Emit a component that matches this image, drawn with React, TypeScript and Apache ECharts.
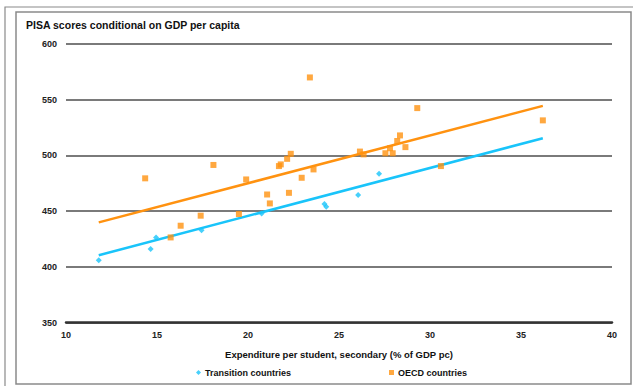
import React, { useEffect, useRef } from "react";
import * as echarts from "echarts";

// Expenditure per student (% of GDP pc) vs. PISA score conditional on GDP
const transitionPoints: [number, number][] = [
  [11.8, 406], [14.65, 416], [14.95, 426.5], [17.45, 433], [20.75, 448],
  [24.2, 456.5], [24.3, 454], [26.05, 464.5], [27.2, 483.5],
];
const oecdPoints: [number, number][] = [
  [14.35, 479.5], [15.75, 426.5], [16.3, 437], [17.4, 446], [18.1, 491.5],
  [19.5, 447.5], [19.9, 478.5], [21.05, 465], [21.2, 457], [21.7, 490.5],
  [21.8, 492], [22.15, 497], [22.35, 501.5], [22.25, 466.5], [22.95, 480],
  [23.4, 570], [23.6, 487.5], [26.15, 503.5], [26.35, 501], [27.55, 502],
  [27.8, 506.5], [27.95, 502], [28.2, 513], [28.35, 518], [28.65, 507.5],
  [29.3, 542.5], [30.6, 490.5], [36.2, 531.5],
];
// Fitted trend lines (end points)
const transitionTrend: [number, number][] = [[11.8, 410.5], [36.2, 515.5]];
const oecdTrend: [number, number][] = [[11.8, 440], [36.2, 544.5]];

const xTicks = { min: 10, max: 40, interval: 5 };
const yTicks = { min: 350, max: 600, interval: 50 };

const CYAN = "#19c4fa";
const ORANGE = "#ff9210";
const FONT = "'Liberation Sans', Arial, sans-serif";

export default function App() {
  const ref = useRef<HTMLDivElement>(null);
  useEffect(() => {
    if (!ref.current) return;
    const chart = echarts.init(ref.current, null, { renderer: "svg" });
    chart.setOption({
      animation: false,
      backgroundColor: "#ffffff",
      textStyle: { fontFamily: FONT },
      title: {
        text: "PISA scores conditional on GDP per capita",
        left: 21,
        top: 14,
        textStyle: { fontSize: 10.5, fontWeight: "bold", color: "#111", fontFamily: FONT },
      },
      graphic: [
        {
          type: "polyline",
          shape: { points: [[5, 386], [5, 7], [633, 7]] },
          style: { stroke: "#8a8a8a", lineWidth: 1.2, fill: "none" },
          silent: true,
        },
        {
          type: "rect",
          shape: { x: 16, y: 12, width: 615, height: 372 },
          style: { stroke: "#8a8a8a", lineWidth: 1.5, fill: "none" },
          silent: true,
        },
      ],
      grid: { left: 66, right: 21, top: 44, bottom: 63.3 },
      xAxis: {
        type: "value",
        min: xTicks.min,
        max: xTicks.max,
        interval: xTicks.interval,
        name: "Expenditure per student, secondary (% of GDP pc)",
        nameLocation: "middle",
        nameGap: 27,
        nameTextStyle: { fontSize: 9.5, fontWeight: "bold", color: "#111", fontFamily: FONT },
        axisLine: { show: true, lineStyle: { color: "#333", width: 2.5 } },
        axisTick: { show: false },
        splitLine: { show: false },
        axisLabel: { fontSize: 9, fontWeight: "bold", color: "#222", margin: 8, fontFamily: FONT },
      },
      yAxis: {
        type: "value",
        min: yTicks.min,
        max: yTicks.max,
        interval: yTicks.interval,
        axisLine: { show: false },
        axisTick: { show: false },
        axisLabel: { fontSize: 9, fontWeight: "bold", color: "#222", margin: 9, fontFamily: FONT },
        splitLine: { show: true, lineStyle: { color: "#7a7a7a", width: 2 } },
      },
      legend: {
        bottom: 4,
        left: 191,
        itemGap: 98,
        itemWidth: 5,
        itemHeight: 5,
        textStyle: { fontSize: 9, fontWeight: "bold", color: "#111", fontFamily: FONT, padding: [0, 0, 0, -1] },
        data: [
          { name: "Transition countries", icon: "diamond" },
          { name: "OECD countries", icon: "rect" },
        ],
      },
      series: [
        {
          name: "Transition trend",
          type: "line",
          data: transitionTrend,
          symbol: "none",
          lineStyle: { color: CYAN, width: 2.5 },
          z: 2,
        },
        {
          name: "OECD trend",
          type: "line",
          data: oecdTrend,
          symbol: "none",
          lineStyle: { color: ORANGE, width: 2.5 },
          z: 2,
        },
        {
          name: "Transition countries",
          type: "scatter",
          data: transitionPoints,
          symbol: "diamond",
          symbolSize: 6,
          itemStyle: { color: CYAN },
          z: 3,
        },
        {
          name: "OECD countries",
          type: "scatter",
          data: oecdPoints,
          symbol: "rect",
          symbolSize: 6,
          itemStyle: { color: ORANGE },
          z: 3,
        },
      ],
    });
    return () => chart.dispose();
  }, []);
  return (
    <div
      ref={ref}
      style={{ position: "fixed", left: 0, top: 0, width: 633, height: 386 }}
    />
  );
}
